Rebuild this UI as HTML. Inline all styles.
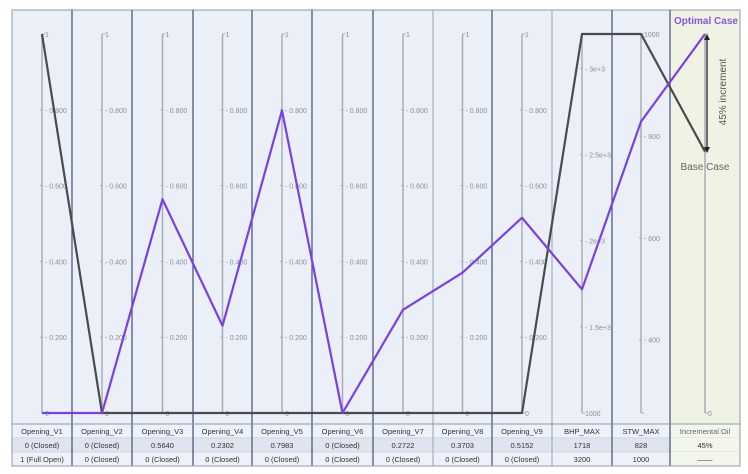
<!DOCTYPE html>
<html><head><meta charset="utf-8">
<style>
body{margin:0;background:#fff;width:748px;height:474px;overflow:hidden;font-family:"Liberation Sans",sans-serif;}
svg{position:absolute;left:0;top:0}
</style></head>
<body>
<svg id="c" width="748" height="474"></svg>
<script>
const dims = ["Opening_V1","Opening_V2","Opening_V3","Opening_V4","Opening_V5","Opening_V6","Opening_V7","Opening_V8","Opening_V9","BHP_MAX","STW_MAX","Incremental Oil"];
const mins = [0,0,0,0,0,0,0,0,0,1000,256,0];
const maxs = [1,1,1,1,1,1,1,1,1,3200,1000,1.45];
const optimal = [0,0,0.564,0.2302,0.7983,0,0.2722,0.3703,0.5152,1718,828,1.45];
const base = [1,0,0,0,0,0,0,0,0,3200,1000,1];
const row1 = ["0 (Closed)","0 (Closed)","0.5640","0.2302","0.7983","0 (Closed)","0.2722","0.3703","0.5152","1718","828","45%"];
const row2 = ["1 (Full Open)","0 (Closed)","0 (Closed)","0 (Closed)","0 (Closed)","0 (Closed)","0 (Closed)","0 (Closed)","0 (Closed)","3200","1000","\u2014\u2014"];
const unitTicks = [0.2,0.4,0.6,0.8];
const unitLabels = ["0.200","0.400","0.600","0.800"];
const bhpTicks = [1500,2000,2500,3000];
const bhpLabels = ["1.5e+3","2e+3","2.5e+3","3e+3"];
const stwTicks = [400,600,800];
const stwLabels = ["400","600","800"];

const NS="http://www.w3.org/2000/svg";
const svg=document.getElementById('c');
function mk(t,a,p){const e=document.createElementNS(NS,t);for(const k in a)e.setAttribute(k,a[k]);(p||svg).appendChild(e);return e;}
const bounds=[12,72,132,193,252,312,373,433,492,552,612,670,740];
const axisX=i=>(bounds[i]+bounds[i+1])/2;
const yTop=34,yBot=413;
const yScale=(i,v)=>yBot-(v-mins[i])/(maxs[i]-mins[i])*(yBot-yTop);

// column backgrounds
for(let i=0;i<12;i++){
  const r=mk('rect',{x:bounds[i],y:10,width:bounds[i+1]-bounds[i],height:414,fill:i==11?'#eef3e4':'#ebeff8'});
  
  
}
mk('rect',{x:12,y:10,width:728,height:456,fill:'none',stroke:'#8e9bb5','stroke-width':1});
const light=[7,9];
for(let i=1;i<12;i++){
  mk('line',{x1:bounds[i],x2:bounds[i],y1:10,y2:466,stroke:light.includes(i)?'#aab3c4':'#4d5b7e','stroke-width':1.3});
}
// axes
for(let i=0;i<12;i++){
  const x=axisX(i);
  const g=mk('g',{});
  
  
  mk('line',{x1:x,x2:x,y1:yTop,y2:yBot,stroke:'#a9adb5','stroke-width':1.5},g);
  mk('line',{x1:x,x2:x+3,y1:yTop,y2:yTop,stroke:'#a9adb5'},g);
  mk('line',{x1:x,x2:x+3,y1:yBot,y2:yBot,stroke:'#a9adb5'},g);
  let tv,tl,top,bot;
  if(i<9){tv=unitTicks;tl=unitLabels;top='1';bot='0';}
  else if(i==9){tv=bhpTicks;tl=bhpLabels;top='';bot='1000';}
  else if(i==10){tv=stwTicks;tl=stwLabels;top='1000';bot='';}
  else{tv=[];tl=[];top='';bot='0';}
  tv.forEach((v,k)=>{const y=yScale(i,v);mk('line',{x1:x-2,x2:x+1,y1:y,y2:y,stroke:'#a9adb5'},g);
    const t=mk('text',{x:x+3,y:y+3,'font-size':7,fill:'#8a8f99'},g);t.textContent='- '+tl[k];});
  if(top){const t=mk('text',{x:x+3,y:yTop+3,'font-size':7,fill:'#8a8f99'},g);t.textContent=top;}
  if(bot){const t=mk('text',{x:x+3,y:yBot+3,'font-size':7,fill:'#8a8f99'},g);t.textContent=bot;}
}
function line(vals,color,name){
  const d=vals.map((v,i)=>(i?'L':'M')+axisX(i)+','+yScale(i,v)).join(' ');
  const p=mk('path',{d:d,fill:'none',stroke:color,'stroke-width':2.2,'stroke-linejoin':'round'});
  
  
}
line(base,'#4a4a50','base-case-line');
line(optimal,'#7b3fe4','optimal-case-line');

// annotations
let t=mk('text',{x:706,y:24,'font-size':10,fill:'#8a55e0','font-weight':'bold','text-anchor':'middle'});
t.textContent='Optimal Case';

t=mk('text',{x:705,y:170,'font-size':10,fill:'#666','text-anchor':'middle'});
t.textContent='Base Case';

mk('line',{x1:707,x2:707,y1:37,y2:150,stroke:'#222','stroke-width':1.3});
mk('path',{d:'M704,40 L707,34 L710,40 Z',fill:'#222'});
mk('path',{d:'M704,147 L707,153 L710,147 Z',fill:'#222'});
t=mk('text',{x:726,y:92,'font-size':10,fill:'#555','text-anchor':'middle',transform:'rotate(-90 726 92)'});
t.textContent='45% increment';


// table
const rows=[dims,row1,row2];
rows.forEach((r,ri)=>{
  const y=424+ri*14;
  mk('rect',{x:12,y:y,width:728,height:14,fill:ri==1?'#dfe5f0':'#eef1f7',stroke:'#c5ccda','stroke-width':0.6});
  r.forEach((s,i)=>{
    if(i==11) mk('rect',{x:bounds[11],y:y,width:70,height:14,fill:'#f3f6ec'});
    const tx=mk('text',{x:axisX(i),y:y+10,'font-size':7.5,fill:i==11&&ri==0?'#666':'#333','text-anchor':'middle'});
    tx.textContent=s;
    
    
  });
});
for(let i=1;i<12;i++) mk('line',{x1:bounds[i],x2:bounds[i],y1:424,y2:466,stroke:light.includes(i)?'#aab3c4':'#4d5b7e','stroke-width':1.3});
mk('rect',{x:12,y:424,width:728,height:42,fill:'none',stroke:'#8e9bb5'});
</script>
</body></html>
